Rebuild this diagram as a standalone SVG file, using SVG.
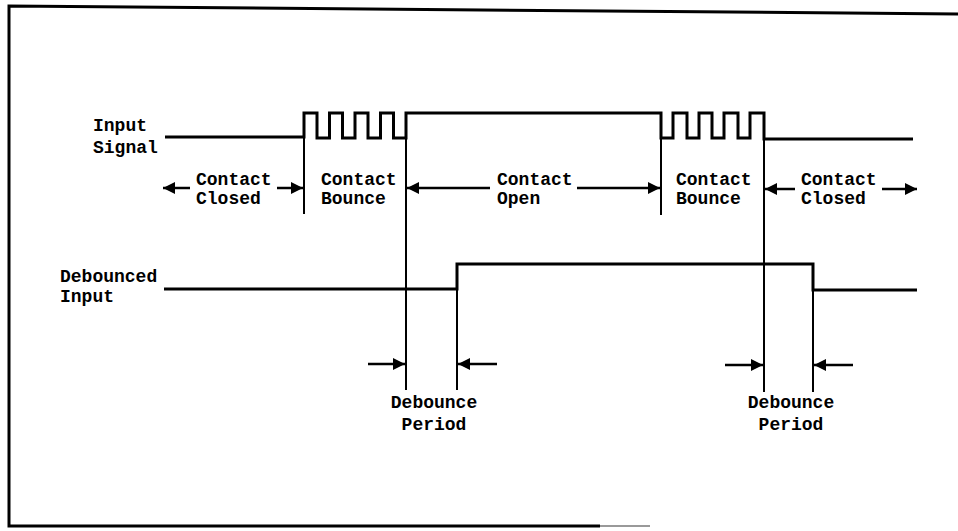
<svg xmlns="http://www.w3.org/2000/svg" width="958" height="531" viewBox="0 0 958 531">
<style>
  .lbl { font-family: "Liberation Mono", "DejaVu Sans Mono", monospace; font-weight: bold; font-size: 18px; fill: #000; }
  .mid { text-anchor: middle; }
  .wave { fill: none; stroke: #000; stroke-width: 3; stroke-linejoin: miter; }
  .edge { fill: none; stroke: #000; stroke-width: 2; }
  .arrow { fill: none; stroke: #000; stroke-width: 2.5; marker-end: url(#ah); }
  .frame { fill: none; stroke: #000; stroke-width: 3; }
</style>
<defs>
  <marker id="ah" markerUnits="userSpaceOnUse" markerWidth="13" markerHeight="12" refX="12" refY="6" orient="auto">
    <path d="M0,0 L12,6 L0,12 z" fill="#000"/>
  </marker>
</defs>
<rect width="958" height="531" fill="#fff"/>
<g id="frame">
  <polyline class="frame" points="958,14 9,6 9,526 600,526"/>
  <line x1="600" y1="526" x2="650" y2="526" stroke="#999" stroke-width="2"/>
</g>
<g id="input-signal">
  <text class="lbl" x="93" y="131">Input</text>
  <text class="lbl" x="93" y="153">Signal</text>
  <path class="wave" d="M165,137 H304 V113 H317 V138 H329.5 V113 H342.5 V138 H355 V113 H368 V138 H380.5 V113 H393.5 V138 H406 V113 H661 V138 H673 V113 H687 V138 H699 V113 H712 V138 H724 V113 H738 V138 H750 V113 H764 V139 H913"/>
</g>
<g id="debounced-input">
  <text class="lbl" x="60" y="282">Debounced</text>
  <text class="lbl" x="60" y="302">Input</text>
  <path class="wave" d="M164,289 H457 V264 H813 V290 H917"/>
</g>
<g id="contact-closed-1">
  <text class="lbl" x="196" y="185">Contact</text>
  <text class="lbl" x="196" y="204">Closed</text>
</g>
<g id="contact-bounce-1">
  <text class="lbl" x="321" y="185">Contact</text>
  <text class="lbl" x="321" y="204">Bounce</text>
</g>
<g id="contact-open">
  <text class="lbl" x="497" y="185">Contact</text>
  <text class="lbl" x="497" y="204">Open</text>
</g>
<g id="contact-bounce-2">
  <text class="lbl" x="676" y="185">Contact</text>
  <text class="lbl" x="676" y="204">Bounce</text>
</g>
<g id="contact-closed-2">
  <text class="lbl" x="801" y="185">Contact</text>
  <text class="lbl" x="801" y="204">Closed</text>
</g>
<g id="debounce-period-1">
  <text class="lbl mid" x="434" y="408">Debounce</text>
  <text class="lbl mid" x="434" y="430">Period</text>
</g>
<g id="debounce-period-2">
  <text class="lbl mid" x="791" y="408">Debounce</text>
  <text class="lbl mid" x="791" y="430">Period</text>
</g>
<g id="connectors">
  <line class="edge" x1="304" y1="138" x2="304" y2="214"/>
  <line class="edge" x1="406" y1="138" x2="406" y2="390"/>
  <line class="edge" x1="661" y1="138" x2="661" y2="215"/>
  <line class="edge" x1="764" y1="139" x2="764" y2="392"/>
  <line class="edge" x1="457" y1="289" x2="457" y2="390"/>
  <line class="edge" x1="813" y1="290" x2="813" y2="392"/>
  <line class="arrow" x1="190" y1="188" x2="163" y2="188"/>
  <line class="arrow" x1="277" y1="188" x2="303" y2="188"/>
  <line class="arrow" x1="490" y1="188" x2="407" y2="188"/>
  <line class="arrow" x1="577" y1="188" x2="660" y2="188"/>
  <line class="arrow" x1="795" y1="189" x2="765" y2="189"/>
  <line class="arrow" x1="882" y1="189" x2="917" y2="189"/>
  <line class="arrow" x1="368" y1="364" x2="405" y2="364"/>
  <line class="arrow" x1="497" y1="364" x2="458" y2="364"/>
  <line class="arrow" x1="725" y1="365" x2="763" y2="365"/>
  <line class="arrow" x1="853" y1="365" x2="814" y2="365"/>
</g>
</svg>
